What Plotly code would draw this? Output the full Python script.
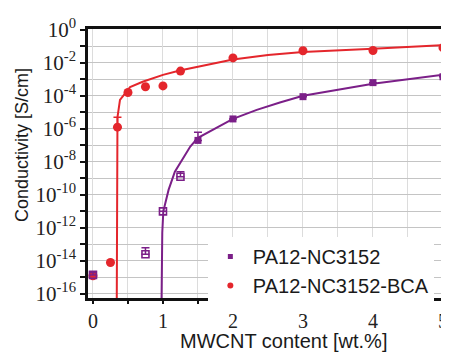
import plotly.graph_objects as go

# ---- data (conductivity in S/cm, exponents are log10 values) ----
red_x = [0, 0.25, 0.35, 0.5, 0.75, 1.0, 1.25, 2, 3, 4, 5]
red_log = [-14.9, -14.1, -5.9, -3.8, -3.45, -3.4, -2.5, -1.7, -1.27, -1.25, -1.08]
red_upper_log = [None, None, -5.3, None, None, None, None, None, None, None, None]

pur_open_x = [0, 0.75, 1.0, 1.25]
pur_open_log = [-14.85, -13.6, -11.0, -8.9]
pur_open_upper_log = [-14.7, -13.2, None, -8.6]

pur_x = [1.5, 2, 3, 4, 5]
pur_log = [-6.7, -5.4, -4.05, -3.2, -2.85]
pur_upper_log = [-6.2, None, None, None, None]

fit_red_x = [0.34, 0.342, 0.345, 0.35, 0.386, 0.46, 0.53, 0.71, 1.0, 1.24, 1.71, 2.0, 2.5, 3.0, 4.0, 5.1]
fit_red_log = [-16.3, -8.0, -6.5, -5.3, -4.24, -3.84, -3.47, -3.15, -2.73, -2.47, -2.06, -1.8, -1.52, -1.35, -1.15, -0.9]

fit_pur_x = [0.98, 0.985, 0.99, 1.005, 1.08, 1.17, 1.24, 1.39, 1.5, 1.71, 2.0, 2.34, 2.67, 3.0, 4.0, 5.1]
fit_pur_log = [-16.3, -13.5, -12.3, -11.0, -9.7, -8.6, -8.1, -7.07, -6.55, -6.06, -5.4, -4.85, -4.4, -4.0, -3.27, -2.67]

legend_names = ["PA12-NC3152", "PA12-NC3152-BCA"]
y_label_exps = list(range(-16, 1, 2))
y_minor_exps = list(range(-15, 0, 2))
x_tick_vals = [0, 1, 2, 3, 4, 5]
x_minor_vals = [0.5, 1.5, 2.5, 3.5, 4.5]

RED = "#e4262c"
PUR = "#7b1f88"
X_RANGE = [-0.071, 5.086]
Y_RANGE = [-16.25, 0.05]


def lin(v):
    return [10 ** e for e in v]


def err_plus(vals, ups):
    return [(10 ** u - 10 ** v) if u is not None else 0 for v, u in zip(vals, ups)]


fig = go.Figure()

fig.add_trace(go.Scatter(x=fit_red_x, y=lin(fit_red_log), mode="lines",
                         line=dict(color=RED, width=2), showlegend=False, hoverinfo="skip"))
fig.add_trace(go.Scatter(x=fit_pur_x, y=lin(fit_pur_log), mode="lines",
                         line=dict(color=PUR, width=2), showlegend=False, hoverinfo="skip"))

fig.add_trace(go.Scatter(
    x=red_x, y=lin(red_log), mode="markers", showlegend=False,
    marker=dict(symbol="circle", size=9, color=RED),
    error_y=dict(type="data", symmetric=False, array=err_plus(red_log, red_upper_log),
                 arrayminus=[0] * len(red_x), color=RED, thickness=1.5, width=4)))

fig.add_trace(go.Scatter(
    x=pur_open_x, y=lin(pur_open_log), mode="markers", showlegend=False,
    marker=dict(symbol="square-open", size=7, color=PUR, line=dict(width=1.6, color=PUR)),
    error_y=dict(type="data", symmetric=False, array=err_plus(pur_open_log, pur_open_upper_log),
                 arrayminus=[0] * len(pur_open_x), color=PUR, thickness=1.5, width=4)))

fig.add_trace(go.Scatter(
    x=pur_x, y=lin(pur_log), mode="markers", showlegend=False,
    marker=dict(symbol="square", size=7, color=PUR),
    error_y=dict(type="data", symmetric=False, array=err_plus(pur_log, pur_upper_log),
                 arrayminus=[0] * len(pur_x), color=PUR, thickness=1.5, width=4)))

# legend entries (small symbols as in the original legend)
fig.add_trace(go.Scatter(x=[None], y=[None], mode="markers", name=legend_names[0],
                         marker=dict(symbol="square", size=5, color=PUR), legendrank=1))
fig.add_trace(go.Scatter(x=[None], y=[None], mode="markers", name=legend_names[1],
                         marker=dict(symbol="circle", size=6, color=RED), legendrank=2))

# the page body adds an 8px offset, so the figure is sized/margined to compensate
fig.update_layout(
    width=441, height=344,
    margin=dict(l=80, r=0, t=21, b=54, autoexpand=False),
    paper_bgcolor="white", plot_bgcolor="white",
    showlegend=True,
    legend=dict(x=0.332, y=0.227, xanchor="left", yanchor="top",
                bgcolor="white", borderwidth=0, itemwidth=35,
                font=dict(family="Liberation Sans, Arial", size=20, color="#1a1a1a"),
                itemsizing="trace", tracegroupgap=0),
    font=dict(family="Liberation Serif, Times New Roman", size=21, color="#222"),
    xaxis=dict(
        range=X_RANGE, automargin=False,
        tickvals=x_tick_vals, ticktext=[str(v) for v in x_tick_vals],
        ticks="outside", ticklen=3, tickwidth=1.5, tickcolor="#111",
        showline=True, linewidth=2.5, linecolor="#111", mirror=True,
        showgrid=True, gridcolor="#dcdcdc", gridwidth=1,
        minor=dict(tickvals=x_minor_vals, ticks="outside", ticklen=3, tickwidth=1.5,
                   tickcolor="#111", showgrid=True, gridcolor="#dcdcdc", gridwidth=1),
        tickfont=dict(family="Liberation Serif, Times New Roman", size=20, color="#222"),
        zeroline=False,
    ),
    yaxis=dict(
        type="log", range=Y_RANGE, automargin=False,
        tickvals=[10 ** e for e in y_label_exps],
        ticktext=["10<sup>%d</sup>" % e for e in y_label_exps],
        ticks="outside", ticklen=5, tickwidth=2, tickcolor="#111",
        showline=True, linewidth=2.5, linecolor="#111", mirror=False,
        showgrid=True, gridcolor="#c4c4c4", gridwidth=1,
        minor=dict(tickvals=[10 ** e for e in y_minor_exps], ticks="outside", ticklen=5,
                   tickwidth=2, tickcolor="#111", showgrid=True, gridcolor="#c4c4c4", gridwidth=1),
        tickfont=dict(family="Liberation Serif, Times New Roman", size=21, color="#222"),
        zeroline=False,
    ),
    # overlay axes used only to draw the fine background grid texture
    xaxis2=dict(overlaying="x", range=X_RANGE, dtick=0.1, tick0=0, showgrid=True,
                gridcolor="#e2e2e2", griddash="dot", gridwidth=1, showticklabels=False,
                ticks="", showline=False, zeroline=False, automargin=False),
    yaxis2=dict(overlaying="y", type="log", range=Y_RANGE, dtick="D2", showgrid=True,
                gridcolor="#e2e2e2", griddash="dot", gridwidth=1, showticklabels=False,
                ticks="", showline=False, zeroline=False, automargin=False),
)

fig.add_annotation(text="MWCNT content [wt.%]", xref="paper", yref="paper",
                   x=(283 - 88) / 361, y=(298 - 341) / 269, xanchor="center", yanchor="middle",
                   showarrow=False, font=dict(family="Liberation Sans, Arial", size=20, color="#1a1a1a"))
fig.add_annotation(text="Conductivity [S/cm]", xref="paper", yref="paper",
                   x=(22 - 88) / 361, y=(298 - 145) / 269, xanchor="center", yanchor="middle",
                   textangle=-90, showarrow=False,
                   font=dict(family="Liberation Sans, Arial", size=18, color="#1a1a1a"))

fig.write_html("out.html")
